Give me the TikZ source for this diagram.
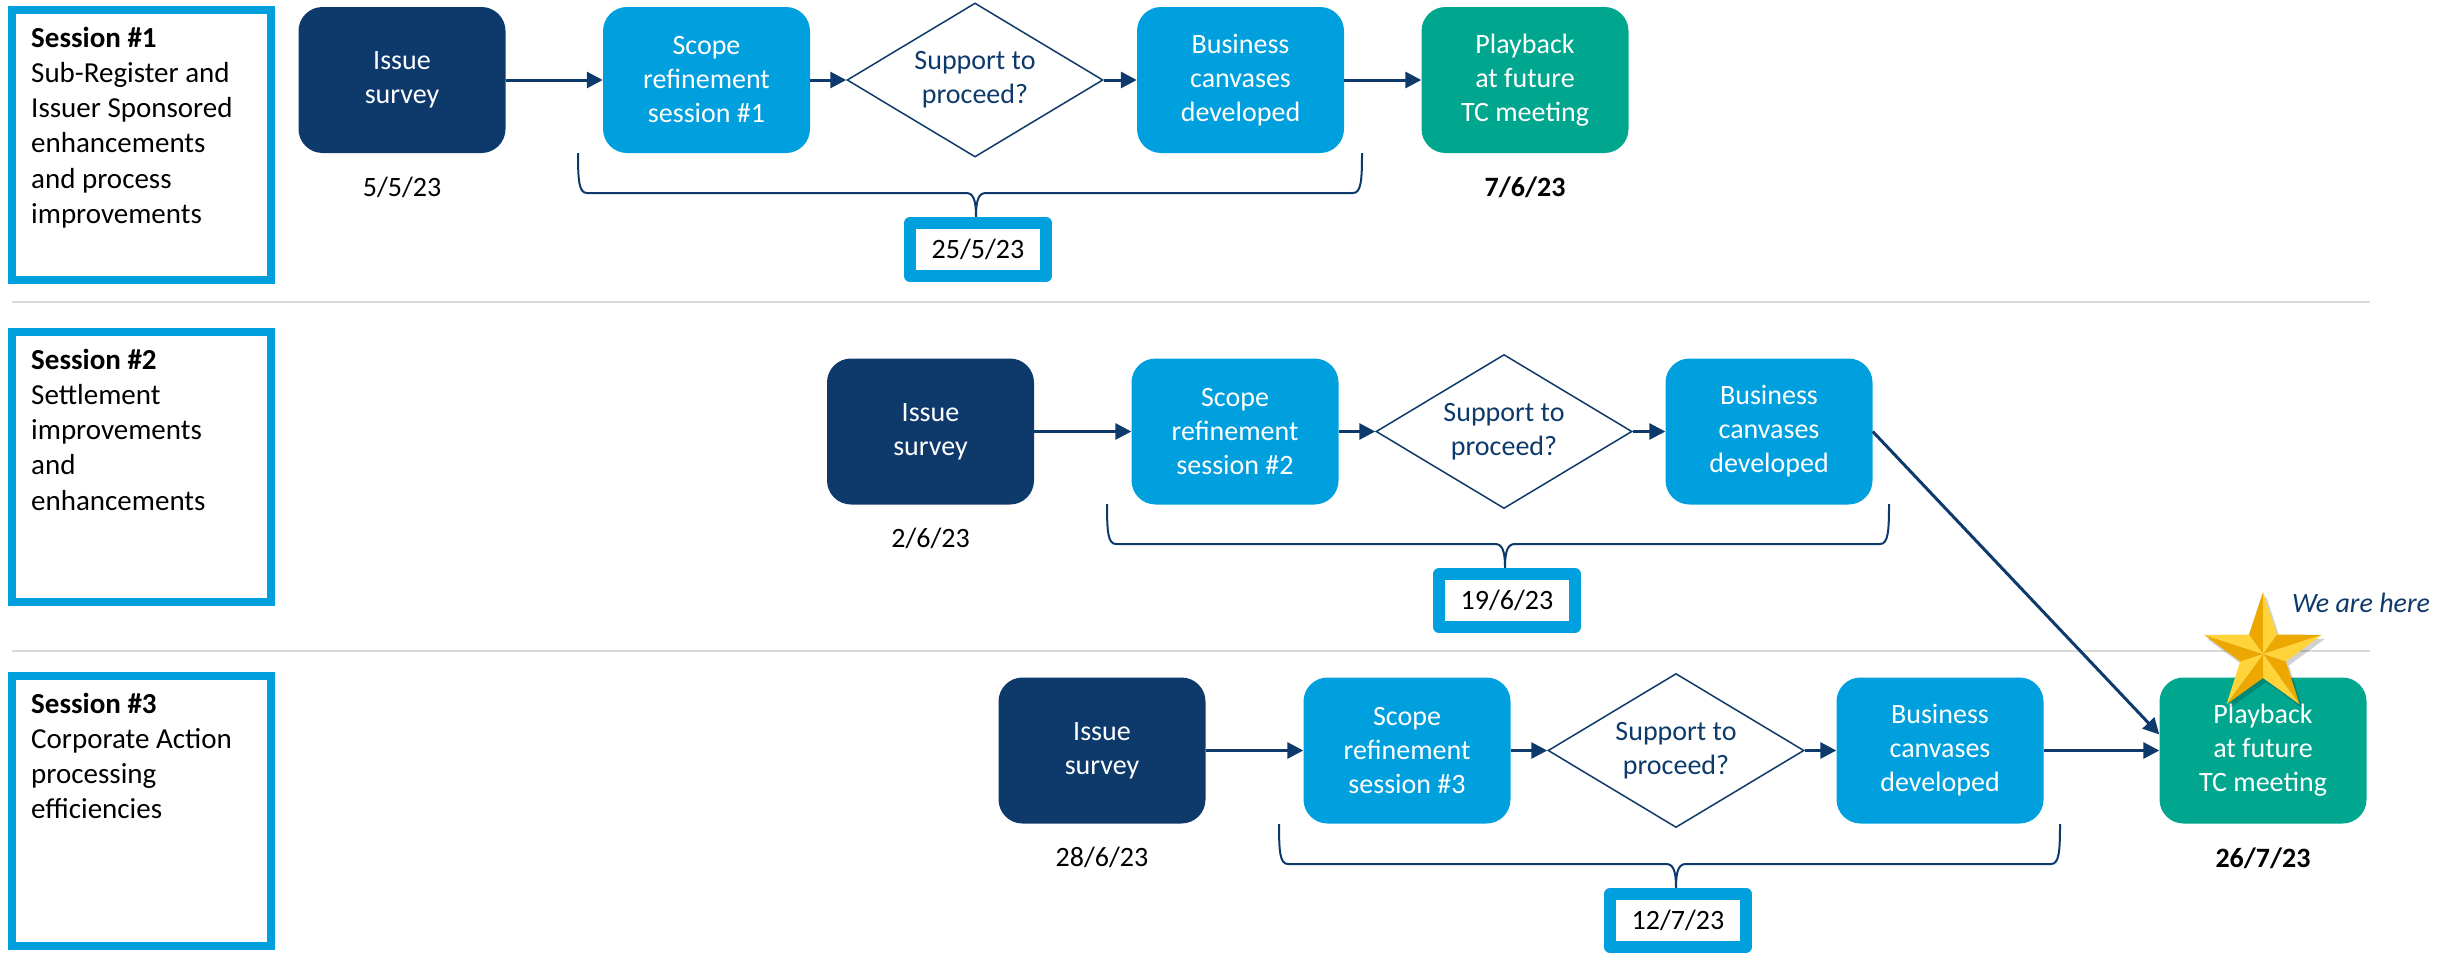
\documentclass[tikz,border=0pt]{standalone}
\usepackage{fontspec}
\setmainfont{Carlito}
\usetikzlibrary{arrows.meta,shapes.geometric,calc}

\definecolor{navy}{HTML}{0E3A6B}
\definecolor{skyblue}{HTML}{00A0DF}
\definecolor{tealbox}{HTML}{00A68E}
\definecolor{sepgrey}{HTML}{DADADA}
\definecolor{starlight}{HTML}{FFD43B}
\definecolor{stardark}{HTML}{ECA800}

\newcommand\boxfont{\fontsize{28}{34}\selectfont}
\newcommand\sessfont{\fontsize{29}{35.3}\selectfont}

% curly bracket under a row: left x, right x, tip x, top y
\newcommand\sessionbrace[4]{%
  \draw[bracket] (#1,#4) .. controls (#1,#4+28) and (#1+1,#4+40) .. (#1+9,#4+40)
    -- (#3-10,#4+40) .. controls (#3-3,#4+40) and (#3,#4+46) .. (#3,#4+64)
    .. controls (#3,#4+46) and (#3+3,#4+40) .. (#3+10,#4+40)
    -- (#2-9,#4+40) .. controls (#2-1,#4+40) and (#2,#4+28) .. (#2,#4);
}

\tikzset{
  stepbox/.style={rounded corners=24pt, minimum width=207pt, minimum height=146pt,
    inner sep=0pt, align=center, text=white, font=\boxfont},
  surveybox/.style={stepbox, fill=navy},
  scopebox/.style={stepbox, fill=skyblue},
  playbox/.style={stepbox, fill=tealbox},
  decision/.style={diamond, aspect=1.66, draw=navy, line width=1.5pt, fill=white,
    minimum width=256pt, minimum height=154pt, inner sep=0pt, align=center,
    text=navy, font=\boxfont},
  flow/.style={draw=navy, line width=3pt, -{Triangle[length=16pt,width=16pt]}},
  sessbox/.style={draw=skyblue, line width=8pt, minimum width=259pt,
    minimum height=270pt, inner sep=0pt},
  sesstext/.style={inner sep=0pt, font=\sessfont, anchor=base west},
  datebox/.style={draw=skyblue, fill=white, line width=12pt, line join=round,
    minimum width=136pt, minimum height=53pt, inner sep=0pt, font=\boxfont},
  datelabel/.style={font=\boxfont, inner sep=0pt},
  bracket/.style={draw=navy, line width=2pt},
  separator/.style={draw=sepgrey, line width=2pt},
}

\begin{document}
\begin{tikzpicture}[x=1pt, y=-1pt]
\useasboundingbox (0,0) rectangle (2448,953);

% row separators
\coordinate (sepA1) at (12,302);
\coordinate (sepA2) at (2370,302);
\coordinate (sepB1) at (12,651);
\coordinate (sepB2) at (2370,651);
\draw[separator] (sepA1) -- (sepA2);
\draw[separator] (sepB1) -- (sepB2);

% session descriptions
\node[sessbox] (s1) at (141.5,145) {};
\node[sessbox] (s2) at (141.5,466.5) {};
\node[sessbox] (s3) at (141.5,810.5) {};
\node[sesstext] (t1) at (31,47) {\parbox[t]{236pt}{\raggedright\textbf{Session \#1}\\Sub-Register and\\Issuer Sponsored\\enhancements\\and process\\improvements}};
\node[sesstext] (t2) at (31,369) {\parbox[t]{236pt}{\raggedright\textbf{Session \#2}\\Settlement\\improvements\\and\\enhancements}};
\node[sesstext] (t3) at (31,713) {\parbox[t]{236pt}{\raggedright\textbf{Session \#3}\\Corporate Action\\processing\\efficiencies}};

% session 1 flow
\node[surveybox] (is1) at (402,80) {Issue\\survey};
\node[scopebox] (sc1) at (706.5,80) {Scope\\refinement\\session \#1};
\node[decision] (d1) at (975,80) {Support to\\proceed?};
\node[scopebox] (bu1) at (1240.5,80) {Business\\canvases\\developed};
\node[playbox] (pl1) at (1525,80) {Playback\\at future\\TC meeting};
\draw[flow] (is1.east) -- (sc1.west);
\draw[flow] (sc1.east) -- (d1.west);
\draw[flow] (d1.east) -- (bu1.west);
\draw[flow] (bu1.east) -- (pl1.west);
\node[datelabel] (da1) at ($(is1.south)+(0,34)$) {5/5/23};
\node[datelabel] (db1) at ($(pl1.south)+(0,34)$) {\textbf{7/6/23}};
\sessionbrace{578}{1362}{976}{153}
\coordinate (tip1) at (976,217);
\node[datebox] (dc1) at ($(tip1)+(2,32.5)$) {25/5/23};

% session 2 flow
\node[surveybox] (is2) at (930.5,431.5) {Issue\\survey};
\node[scopebox] (sc2) at (1235,431.5) {Scope\\refinement\\session \#2};
\node[decision] (d2) at (1504,431.5) {Support to\\proceed?};
\node[scopebox] (bu2) at (1769,431.5) {Business\\canvases\\developed};
\draw[flow] (is2.east) -- (sc2.west);
\draw[flow] (sc2.east) -- (d2.west);
\draw[flow] (d2.east) -- (bu2.west);
\node[datelabel] (da2) at ($(is2.south)+(0,34)$) {2/6/23};
\sessionbrace{1107}{1889}{1505}{504}
\coordinate (tip2) at (1505,568);
\node[datebox] (dc2) at ($(tip2)+(2,32.5)$) {19/6/23};

% session 3 flow
\node[surveybox] (is3) at (1102,750.5) {Issue\\survey};
\node[scopebox] (sc3) at (1407,750.5) {Scope\\refinement\\session \#3};
\node[decision] (d3) at (1676,750.5) {Support to\\proceed?};
\node[scopebox] (bu3) at (1940,750.5) {Business\\canvases\\developed};
\node[playbox] (pl3) at (2263,750.5) {Playback\\at future\\TC meeting};
\draw[flow] (is3.east) -- (sc3.west);
\draw[flow] (sc3.east) -- (d3.west);
\draw[flow] (d3.east) -- (bu3.west);
\draw[flow] (bu3.east) -- (pl3.west);
\coordinate (pl3in) at ($(pl3.west)+(0,-16)$);
\draw[flow] (bu2.east) -- (pl3in);
\node[datelabel] (da3) at ($(is3.south)+(0,34)$) {28/6/23};
\node[datelabel] (db3) at ($(pl3.south)+(0,35)$) {\textbf{26/7/23}};
\sessionbrace{1279}{2060}{1676}{824}
\coordinate (tip3) at (1676,888);
\node[datebox] (dc3) at ($(tip3)+(2,32.5)$) {12/7/23};

% faceted gold star marking the current stage
\begin{scope}[shift={(2266,658)}]
  \fill[black, opacity=0.18]
    (-90:62) -- (-54:24) -- (-18:62) -- (18:24) -- (54:62) -- (90:24)
    -- (126:62) -- (162:24) -- (198:62) -- (234:24) -- cycle;
\end{scope}
\begin{scope}[shift={(2263,654)}]
  \foreach \k in {0,...,4} {
    \pgfmathsetmacro\a{-90+72*\k}
    \fill[stardark] (0,0) -- (\a:62) -- (\a-36:24) -- cycle;
    \fill[starlight] (0,0) -- (\a:62) -- (\a+36:24) -- cycle;
  }
\end{scope}
\node[font=\boxfont\itshape, text=navy, inner sep=0pt] (here) at (2361,603) {We are here};

\end{tikzpicture}
\end{document}
